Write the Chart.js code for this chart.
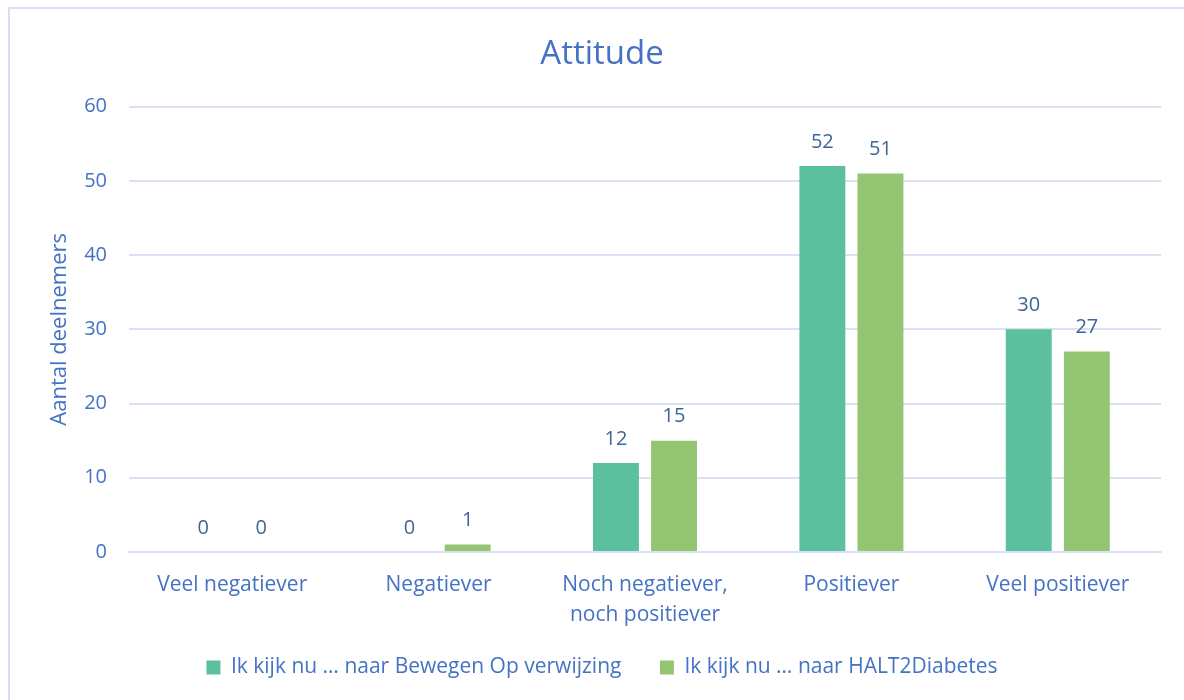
<!DOCTYPE html>
<html>
<head>
<meta charset="utf-8">
<script src="https://cdn.jsdelivr.net/npm/chart.js@4/dist/chart.umd.min.js"></script>
<style>
  body { margin: 0; background: #fff; }
  #wrap { position: relative; width: 1184px; height: 700px; }
  #frame { position: absolute; left: 8px; top: 7px; width: 1190px; height: 710px; border: 2px solid #D5DFEF; box-sizing: border-box; pointer-events: none; }
</style>
</head>
<body>
<div id="wrap">
  <canvas id="grafik" width="1184" height="700"></canvas>
  <div id="frame"></div>
</div>
<script>
const categories = ['Veel negatiever', 'Negatiever', ['Noch negatiever,', 'noch positiever'], 'Positiever', 'Veel positiever'];
const bewegenOp = [0, 0, 12, 52, 30]; // Bewegen Op verwijzing
const halt2 = [0, 1, 15, 51, 27];     // HALT2Diabetes
const yTicks = [0, 10, 20, 30, 40, 50, 60];

const blauw = '#4472C4';
const fontFam = '"Open Sans", sans-serif';

// eigen plugin voor de waarden boven de staven
const waardeLabels = {
    id: 'waardeLabels',
    afterDatasetsDraw(chart) {
        const ctx = chart.ctx;
        ctx.save();
        ctx.font = '20px ' + fontFam;
        ctx.fillStyle = '#3F6595';
        ctx.textAlign = 'center';
        ctx.textBaseline = 'middle';
        chart.data.datasets.forEach((ds, i) => {
            chart.getDatasetMeta(i).data.forEach((bar, j) => {
                ctx.fillText(ds.data[j], bar.x, bar.y - 24);
            });
        });
        ctx.restore();
    }
};

const config = {
    type: 'bar',
    data: {
        labels: categories,
        datasets: [{
            label: 'Ik kijk nu … naar Bewegen Op verwijzing\u2002',
            data: bewegenOp,
            backgroundColor: '#5CBF9E',
            categoryPercentage: 0.563,
            barPercentage: 0.79
        }, {
            label: 'Ik kijk nu … naar HALT2Diabetes',
            data: halt2,
            backgroundColor: '#93C572',
            categoryPercentage: 0.563,
            barPercentage: 0.79
        }]
    },
    options: {
        responsive: false,
        animation: false,
        layout: { padding: { left: 43, right: 23, top: 0, bottom: 12 } },
        plugins: {
            title: {
                display: true,
                text: 'Attitude',
                color: blauw,
                font: { family: fontFam, size: 33, weight: 'normal' },
                padding: { top: 35, bottom: 32 }
            },
            legend: {
                position: 'bottom',
                labels: {
                    color: blauw,
                    font: { family: fontFam, size: 21 },
                    boxWidth: 14,
                    boxHeight: 14,
                    padding: 28
                }
            },
            tooltip: { enabled: false }
        },
        scales: {
            x: {
                grid: { display: false },
                border: { color: '#D9E2F0', width: 2 },
                ticks: {
                    color: blauw,
                    font: { family: fontFam, size: 21, lineHeight: 1.43 },
                    padding: 10,
                    maxRotation: 0
                },
                afterFit(scale) { scale.height = 77; }
            },
            y: {
                min: 0,
                max: 60,
                afterBuildTicks(scale) { scale.ticks = yTicks.map(v => ({ value: v })); },
                grid: { color: '#D9E2F0', lineWidth: 2, drawTicks: false },
                border: { display: false },
                ticks: {
                    color: blauw,
                    font: { family: fontFam, size: 20 },
                    padding: 22
                },
                title: {
                    display: true,
                    text: 'Aantal deelnemers',
                    color: blauw,
                    font: { family: fontFam, size: 22 }
                },
                afterFit(scale) { scale.width = 86; }
            }
        }
    },
    plugins: [waardeLabels]
};

const ctx = document.getElementById('grafik').getContext('2d');
new Chart(ctx, config);
</script>
</body>
</html>
